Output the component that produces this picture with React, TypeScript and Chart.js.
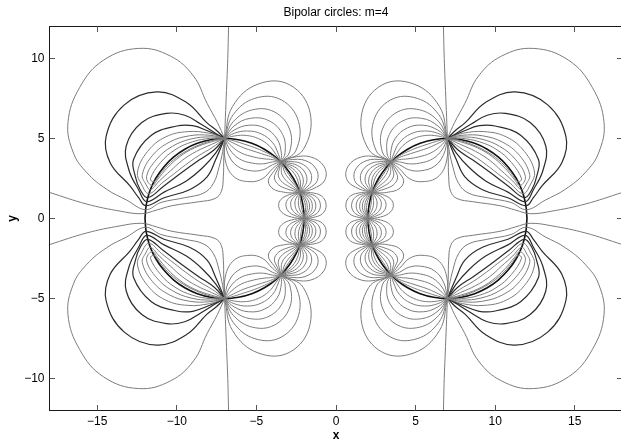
import React, { useEffect, useRef } from "react";
import { Chart, registerables } from "chart.js";

Chart.register(...registerables);

type Pt = [number, number];

const TITLE = "Bipolar circles: m=4";
const X_LABEL = "x";
const Y_LABEL = "y";
const X_MIN = -18;
const X_MAX = 18;
const Y_MIN = -12;
const Y_MAX = 12;
const X_TICKS = [-15, -10, -5, 0, 5, 10, 15];
const Y_TICKS = [-10, -5, 0, 5, 10];

// All curves are read in the upper-left quarter (left circle, y >= 0);
// the figure is symmetric in x and in y, so the other quarters are mirror images.

// upper half of the bold left circle, from (-12,0) to (-2,0)
const circleUpper: Pt[] = [
  [-12, 0], [-11.92, 0.87], [-11.7, 1.71], [-11.33, 2.5], [-10.83, 3.21], [-10.21, 3.83],
  [-9.5, 4.33], [-8.71, 4.7], [-7.87, 4.92], [-7, 5], [-6.13, 4.92], [-5.29, 4.7],
  [-4.5, 4.33], [-3.79, 3.83], [-3.17, 3.21], [-2.67, 2.5], [-2.3, 1.71], [-2.08, 0.87], [-2, 0],
];

// line from the top edge through the top node, inside the circle and out to the left edge
const separatrix: Pt[] = [
  [-6.75, 12], [-6.8, 10], [-6.88, 8], [-6.95, 6.3], [-7, 5], [-7.05, 3.8], [-7.08, 2.6],
  [-7.2, 1.7], [-7.6, 1.25], [-8.6, 1.05], [-10.3, 0.8], [-11.3, 0.52], [-12.2, 0.3],
  [-13.56, 0.46], [-15.65, 0.9], [-18, 1.63],
];

// big outer lobe: loops through the top node (-7,5); outside part then inside part
const lobeThin: Pt[][] = [
  [[-7, 5], [-7.45, 6.0], [-8.1, 7.2], [-8.95, 8.9], [-10.4, 10.15], [-12.4, 10.63], [-14.6, 9.9],
   [-16.1, 8.2], [-16.84, 6.0], [-16.5, 4.1], [-15.65, 2.86], [-14.4, 1.82], [-13.15, 1.15], [-11.97, 0.55],
   [-11.0, 1.0], [-9.5, 1.3], [-8.3, 1.6], [-7.7, 2.2], [-7.35, 3.2], [-7.12, 4.2], [-7, 5]],
  [[-7, 5], [-7.94, 5.32], [-9.31, 5.43], [-10.7, 5.1], [-11.83, 4.2], [-12.47, 2.91], [-12.2, 2.1], [-11.75, 1.55],
   [-10.95, 2.2], [-10.17, 2.8], [-9.44, 3.36], [-8.66, 3.91], [-7.78, 4.43], [-7, 5]],
  [[-7, 5], [-7.92, 5.2], [-9.2, 5.17], [-10.47, 4.77], [-11.53, 3.94], [-12.17, 2.75], [-11.95, 2.15], [-11.66, 1.8],
   [-11.1, 2.35], [-10.41, 2.97], [-9.65, 3.64], [-8.78, 4.19], [-7.82, 4.63], [-7, 5]],
  [[-7, 5], [-7.9, 5.1], [-9.11, 4.97], [-10.28, 4.51], [-11.26, 3.71], [-11.9, 2.61], [-11.56, 2.05],
   [-11.2, 2.45], [-10.62, 3.14], [-9.81, 3.87], [-8.88, 4.42], [-7.84, 4.79], [-7, 5]],
  [[-7, 5], [-7.88, 5.01], [-9.03, 4.79], [-10.12, 4.29], [-11.02, 3.5], [-11.66, 2.48], [-11.44, 2.3],
   [-11.0, 2.85], [-10.4, 3.5], [-9.6, 4.1], [-8.6, 4.6], [-7.6, 4.92], [-7, 5]],
];
const lobeDark: Pt[][] = [
  [[-7, 5], [-7.5, 5.5], [-8.12, 5.99], [-9.37, 7.24], [-11.25, 7.91], [-13.3, 7.1], [-14.44, 5.15],
   [-14.19, 3.49], [-12.93, 2.02], [-12.4, 1.3], [-11.94, 0.8],
   [-10.8, 1.3], [-9.2, 1.8], [-8.1, 2.6], [-7.55, 3.7], [-7, 5]],
  [[-7, 5], [-7.6, 5.35], [-8.5, 5.9], [-9.5, 6.45], [-10.63, 6.57], [-12.2, 6.0], [-13.18, 4.53],
   [-13.0, 3.0], [-12.4, 1.8], [-11.89, 1.05],
   [-10.8, 1.65], [-9.4, 2.35], [-8.35, 3.2], [-7.55, 4.1], [-7, 5]],
  [[-7, 5], [-8.0, 5.45], [-9.0, 5.8], [-10.0, 5.78], [-11.6, 5.2], [-12.72, 3.69], [-12.6, 2.6],
   [-12.3, 1.8], [-11.83, 1.3],
   [-10.85, 2.0], [-9.65, 2.9], [-8.6, 3.65], [-7.65, 4.3], [-7, 5]],
];

// lens between the top node (-7,5) and the node (-3.46,3.54): outside and inside arcs
const lens12Out: Pt[][] = [
  [[-7, 5], [-6.5, 7.0], [-4.9, 8.4], [-2.9, 8.35], [-1.63, 6.62], [-2.05, 4.32], [-3.46, 3.54]],
  [[-7, 5], [-6.46, 6.49], [-5.1, 7.51], [-3.45, 7.42], [-2.35, 6.05], [-2.53, 4.23], [-3.46, 3.54]],
  [[-7, 5], [-6.43, 6.08], [-5.26, 6.79], [-3.89, 6.67], [-2.92, 5.59], [-2.91, 4.16], [-3.46, 3.54]],
  [[-7, 5], [-6.41, 5.78], [-5.39, 6.26], [-4.21, 6.11], [-3.35, 5.25], [-3.2, 4.11], [-3.46, 3.54]],
  [[-7, 5], [-6.39, 5.53], [-5.48, 5.83], [-4.48, 5.66], [-3.7, 4.97], [-3.43, 4.07], [-3.46, 3.54]],
  [[-7, 5], [-6.38, 5.33], [-5.56, 5.47], [-4.7, 5.29], [-3.98, 4.74], [-3.62, 4.03], [-3.46, 3.54]],
  [[-7, 5], [-6.37, 5.16], [-5.63, 5.19], [-4.87, 4.99], [-4.21, 4.56], [-3.77, 4.0], [-3.46, 3.54]],
];
const lens12In: Pt[][] = [
  [[-7, 5], [-6.95, 3.6], [-6.4, 2.6], [-5.4, 2.3], [-4.6, 2.5], [-4.0, 3.1], [-3.46, 3.54]],
  [[-7, 5], [-6.77, 4.01], [-6.19, 3.27], [-5.31, 2.98], [-4.57, 3.05], [-3.99, 3.36], [-3.46, 3.54]],
  [[-7, 5], [-6.65, 4.28], [-6.06, 3.72], [-5.25, 3.46], [-4.55, 3.42], [-3.98, 3.54], [-3.46, 3.54]],
  [[-7, 5], [-6.55, 4.51], [-5.94, 4.09], [-5.19, 3.85], [-4.53, 3.73], [-3.97, 3.68], [-3.46, 3.54]],
  [[-7, 5], [-6.46, 4.72], [-5.83, 4.43], [-5.15, 4.2], [-4.52, 4.0], [-3.97, 3.81], [-3.46, 3.54]],
  [[-7, 5], [-6.4, 4.85], [-5.77, 4.65], [-5.11, 4.43], [-4.51, 4.18], [-3.96, 3.9], [-3.46, 3.54]],
];

// lens between (-3.46,3.54) and (-2.28,1.64)
const lens23Out: Pt[][] = [
  [[-3.46, 3.54], [-2.8, 3.8], [-1.6, 3.85], [-0.75, 3.25], [-0.7, 2.4], [-1.45, 1.85], [-2.28, 1.64]],
  [[-3.46, 3.54], [-2.9, 3.67], [-1.95, 3.63], [-1.25, 3.1], [-1.17, 2.38], [-1.69, 1.89], [-2.28, 1.64]],
  [[-3.46, 3.54], [-2.98, 3.56], [-2.22, 3.45], [-1.65, 2.98], [-1.55, 2.37], [-1.88, 1.91], [-2.28, 1.64]],
  [[-3.46, 3.54], [-3.05, 3.48], [-2.43, 3.32], [-1.96, 2.9], [-1.83, 2.36], [-2.03, 1.93], [-2.28, 1.64]],
  [[-3.46, 3.54], [-3.1, 3.41], [-2.59, 3.22], [-2.2, 2.83], [-2.05, 2.35], [-2.14, 1.95], [-2.28, 1.64]],
  [[-3.46, 3.54], [-3.14, 3.36], [-2.73, 3.13], [-2.4, 2.77], [-2.24, 2.34], [-2.24, 1.96], [-2.28, 1.64]],
  [[-3.46, 3.54], [-3.17, 3.31], [-2.84, 3.06], [-2.56, 2.72], [-2.39, 2.34], [-2.31, 1.98], [-2.28, 1.64]],
];
const lens23In: Pt[][] = [
  [[-3.46, 3.54], [-3.9, 2.95], [-4.25, 2.35], [-3.95, 1.85], [-3.3, 1.65], [-2.75, 1.6], [-2.28, 1.64]],
  [[-3.46, 3.54], [-3.69, 3.04], [-3.87, 2.54], [-3.59, 2.09], [-3.08, 1.85], [-2.65, 1.72], [-2.28, 1.64]],
  [[-3.46, 3.54], [-3.56, 3.11], [-3.62, 2.66], [-3.36, 2.26], [-2.94, 1.99], [-2.58, 1.8], [-2.28, 1.64]],
  [[-3.46, 3.54], [-3.44, 3.16], [-3.4, 2.77], [-3.15, 2.39], [-2.82, 2.11], [-2.52, 1.86], [-2.28, 1.64]],
  [[-3.46, 3.54], [-3.33, 3.2], [-3.21, 2.86], [-2.97, 2.51], [-2.71, 2.21], [-2.47, 1.92], [-2.28, 1.64]],
  [[-3.46, 3.54], [-3.27, 3.24], [-3.08, 2.92], [-2.86, 2.6], [-2.64, 2.28], [-2.44, 1.96], [-2.28, 1.64]],
];

// lens between (-2.28,1.64) and (-2,0)
const lens34Out: Pt[][] = [
  [[-2.28, 1.64], [-1.6, 1.62], [-0.9, 1.4], [-0.62, 0.85], [-0.85, 0.3], [-1.5, 0.05], [-2, 0]],
  [[-2.28, 1.64], [-1.75, 1.56], [-1.21, 1.33], [-0.98, 0.85], [-1.15, 0.37], [-1.63, 0.11], [-2, 0]],
  [[-2.28, 1.64], [-1.87, 1.51], [-1.45, 1.27], [-1.27, 0.84], [-1.38, 0.42], [-1.73, 0.15], [-2, 0]],
  [[-2.28, 1.64], [-1.95, 1.48], [-1.63, 1.23], [-1.49, 0.84], [-1.56, 0.46], [-1.81, 0.19], [-2, 0]],
  [[-2.28, 1.64], [-2.02, 1.45], [-1.78, 1.19], [-1.66, 0.84], [-1.7, 0.49], [-1.87, 0.22], [-2, 0]],
  [[-2.28, 1.64], [-2.08, 1.42], [-1.9, 1.16], [-1.81, 0.83], [-1.82, 0.51], [-1.92, 0.24], [-2, 0]],
  [[-2.28, 1.64], [-2.13, 1.4], [-2.0, 1.14], [-1.93, 0.83], [-1.91, 0.53], [-1.96, 0.26], [-2, 0]],
];
const lens34In: Pt[][] = [
  [[-2.28, 1.64], [-2.9, 1.5], [-3.45, 1.2], [-3.6, 0.75], [-3.3, 0.3], [-2.6, 0.05], [-2, 0]],
  [[-2.28, 1.64], [-2.69, 1.46], [-3.05, 1.17], [-3.14, 0.77], [-2.92, 0.38], [-2.42, 0.12], [-2, 0]],
  [[-2.28, 1.64], [-2.55, 1.44], [-2.79, 1.16], [-2.84, 0.79], [-2.67, 0.43], [-2.31, 0.17], [-2, 0]],
  [[-2.28, 1.64], [-2.42, 1.42], [-2.56, 1.14], [-2.57, 0.8], [-2.45, 0.47], [-2.2, 0.2], [-2, 0]],
  [[-2.28, 1.64], [-2.32, 1.4], [-2.36, 1.13], [-2.35, 0.82], [-2.26, 0.51], [-2.12, 0.24], [-2, 0]],
  [[-2.28, 1.64], [-2.25, 1.39], [-2.23, 1.12], [-2.19, 0.82], [-2.13, 0.54], [-2.06, 0.26], [-2, 0]],
];

const THIN = "#7c7c7c";
const DARK = "#2b2b2b";
const CIRCLE = "#111111";

const fmtTick = (v: number) => (v < 0 ? "\u2212" + Math.abs(v) : String(v));

const mirrors: Pt[] = [[1, 1], [1, -1], [-1, 1], [-1, -1]];
const toXY = (arc: Pt[], sx: number, sy: number) => arc.map(([x, y]) => ({ x: sx * x, y: sy * y }));

function curveSets(arcs: Pt[][], color: string, width: number) {
  const out: any[] = [];
  arcs.forEach((arc) => {
    mirrors.forEach(([sx, sy]) => {
      out.push({
        data: toXY(arc, sx, sy),
        borderColor: color,
        borderWidth: width,
        showLine: true,
        pointRadius: 0,
        tension: 0.4,
        fill: false,
      });
    });
  });
  return out;
}

const framePlugin = {
  id: "matlabFrame",
  afterDatasetsDraw(chart: any) {
    const { ctx, chartArea, scales } = chart;
    const { left, right, top, bottom } = chartArea;
    ctx.save();
    ctx.strokeStyle = "#1a1a1a";
    ctx.lineWidth = 1;
    ctx.strokeRect(left, top, right - left, bottom - top);
    ctx.strokeStyle = "#555";
    ctx.beginPath();
    const tl = 5.5;
    X_TICKS.forEach((v) => {
      const p = Math.floor(scales.x.getPixelForValue(v)) + 0.5;
      ctx.moveTo(p, bottom);
      ctx.lineTo(p, bottom - tl);
      ctx.moveTo(p, top);
      ctx.lineTo(p, top + tl);
    });
    Y_TICKS.forEach((v) => {
      const p = Math.floor(scales.y.getPixelForValue(v)) + 0.5;
      ctx.moveTo(left, p);
      ctx.lineTo(left + tl, p);
      ctx.moveTo(right, p);
      ctx.lineTo(right - tl, p);
    });
    ctx.stroke();
    ctx.restore();
  },
};

export default function App() {
  const ref = useRef<HTMLCanvasElement | null>(null);

  useEffect(() => {
    if (!ref.current) return;
    Chart.defaults.font.family = "'Liberation Sans', Arial, Helvetica, sans-serif";

    const fullCircle: Pt[] = [
      ...circleUpper,
      ...circleUpper.slice(0, -1).reverse().map(([x, y]) => [x, -y] as Pt),
    ];
    const circleSets = [1, -1].map((sx) => ({
      data: toXY(fullCircle, sx, 1),
      borderColor: CIRCLE,
      borderWidth: 1.6,
      showLine: true,
      pointRadius: 0,
      tension: 0.4,
      fill: false,
    }));

    const datasets = [
      ...curveSets([separatrix], THIN, 1),
      ...curveSets(lobeThin, THIN, 1),
      ...curveSets(lens12Out, THIN, 1),
      ...curveSets(lens12In, THIN, 1),
      ...curveSets(lens23Out, THIN, 1),
      ...curveSets(lens23In, THIN, 1),
      ...curveSets(lens34Out, THIN, 1),
      ...curveSets(lens34In, THIN, 1),
      ...curveSets(lobeDark, DARK, 1.2),
      ...circleSets,
    ];

    const chart = new Chart(ref.current, {
      type: "scatter",
      data: { datasets },
      plugins: [framePlugin],
      options: {
        responsive: false,
        animation: false,
        devicePixelRatio: 1,
        events: [],
        layout: { padding: { left: 0, right: 17.5, top: 0, bottom: 0 } },
        plugins: {
          legend: { display: false },
          tooltip: { enabled: false },
          title: {
            display: true,
            text: TITLE,
            fullSize: false,
            color: "#000",
            font: { size: 12, weight: "normal" },
            padding: { top: 5.8, bottom: 6.3 },
          },
        },
        scales: {
          x: {
            type: "linear",
            position: "bottom",
            min: X_MIN,
            max: X_MAX,
            afterBuildTicks: (s: any) => {
              s.ticks = X_TICKS.map((v) => ({ value: v }));
            },
            afterFit: (s: any) => {
              s.height = 33.5;
            },
            grid: { display: false, drawTicks: false },
            border: { display: false },
            ticks: {
              padding: 4,
              color: "#000",
              font: { size: 12 },
              maxRotation: 0,
              autoSkip: false,
              callback: (v: any) => fmtTick(Number(v)),
            },
            title: {
              display: true,
              text: X_LABEL,
              color: "#000",
              font: { size: 12, weight: "bold" },
              padding: { top: 0, bottom: 1 },
            },
          },
          y: {
            type: "linear",
            position: "left",
            min: Y_MIN,
            max: Y_MAX,
            afterBuildTicks: (s: any) => {
              s.ticks = Y_TICKS.map((v) => ({ value: v }));
            },
            afterFit: (s: any) => {
              s.width = 49.5;
            },
            grid: { display: false, drawTicks: false },
            border: { display: false },
            ticks: {
              padding: 5,
              color: "#000",
              font: { size: 12 },
              autoSkip: false,
              callback: (v: any) => fmtTick(Number(v)),
            },
            title: {
              display: true,
              text: Y_LABEL,
              color: "#000",
              font: { size: 12, weight: "bold" },
              padding: { top: 5.8, bottom: 0 },
            },
          },
        },
      } as any,
    });
    return () => chart.destroy();
  }, []);

  return (
    <div
      style={{
        position: "fixed",
        left: 0,
        top: 0,
        width: 621,
        height: 444,
        overflow: "hidden",
        background: "#fff",
      }}
    >
      <canvas ref={ref} width={640} height={444} style={{ display: "block", width: 640, height: 444 }} />
    </div>
  );
}
